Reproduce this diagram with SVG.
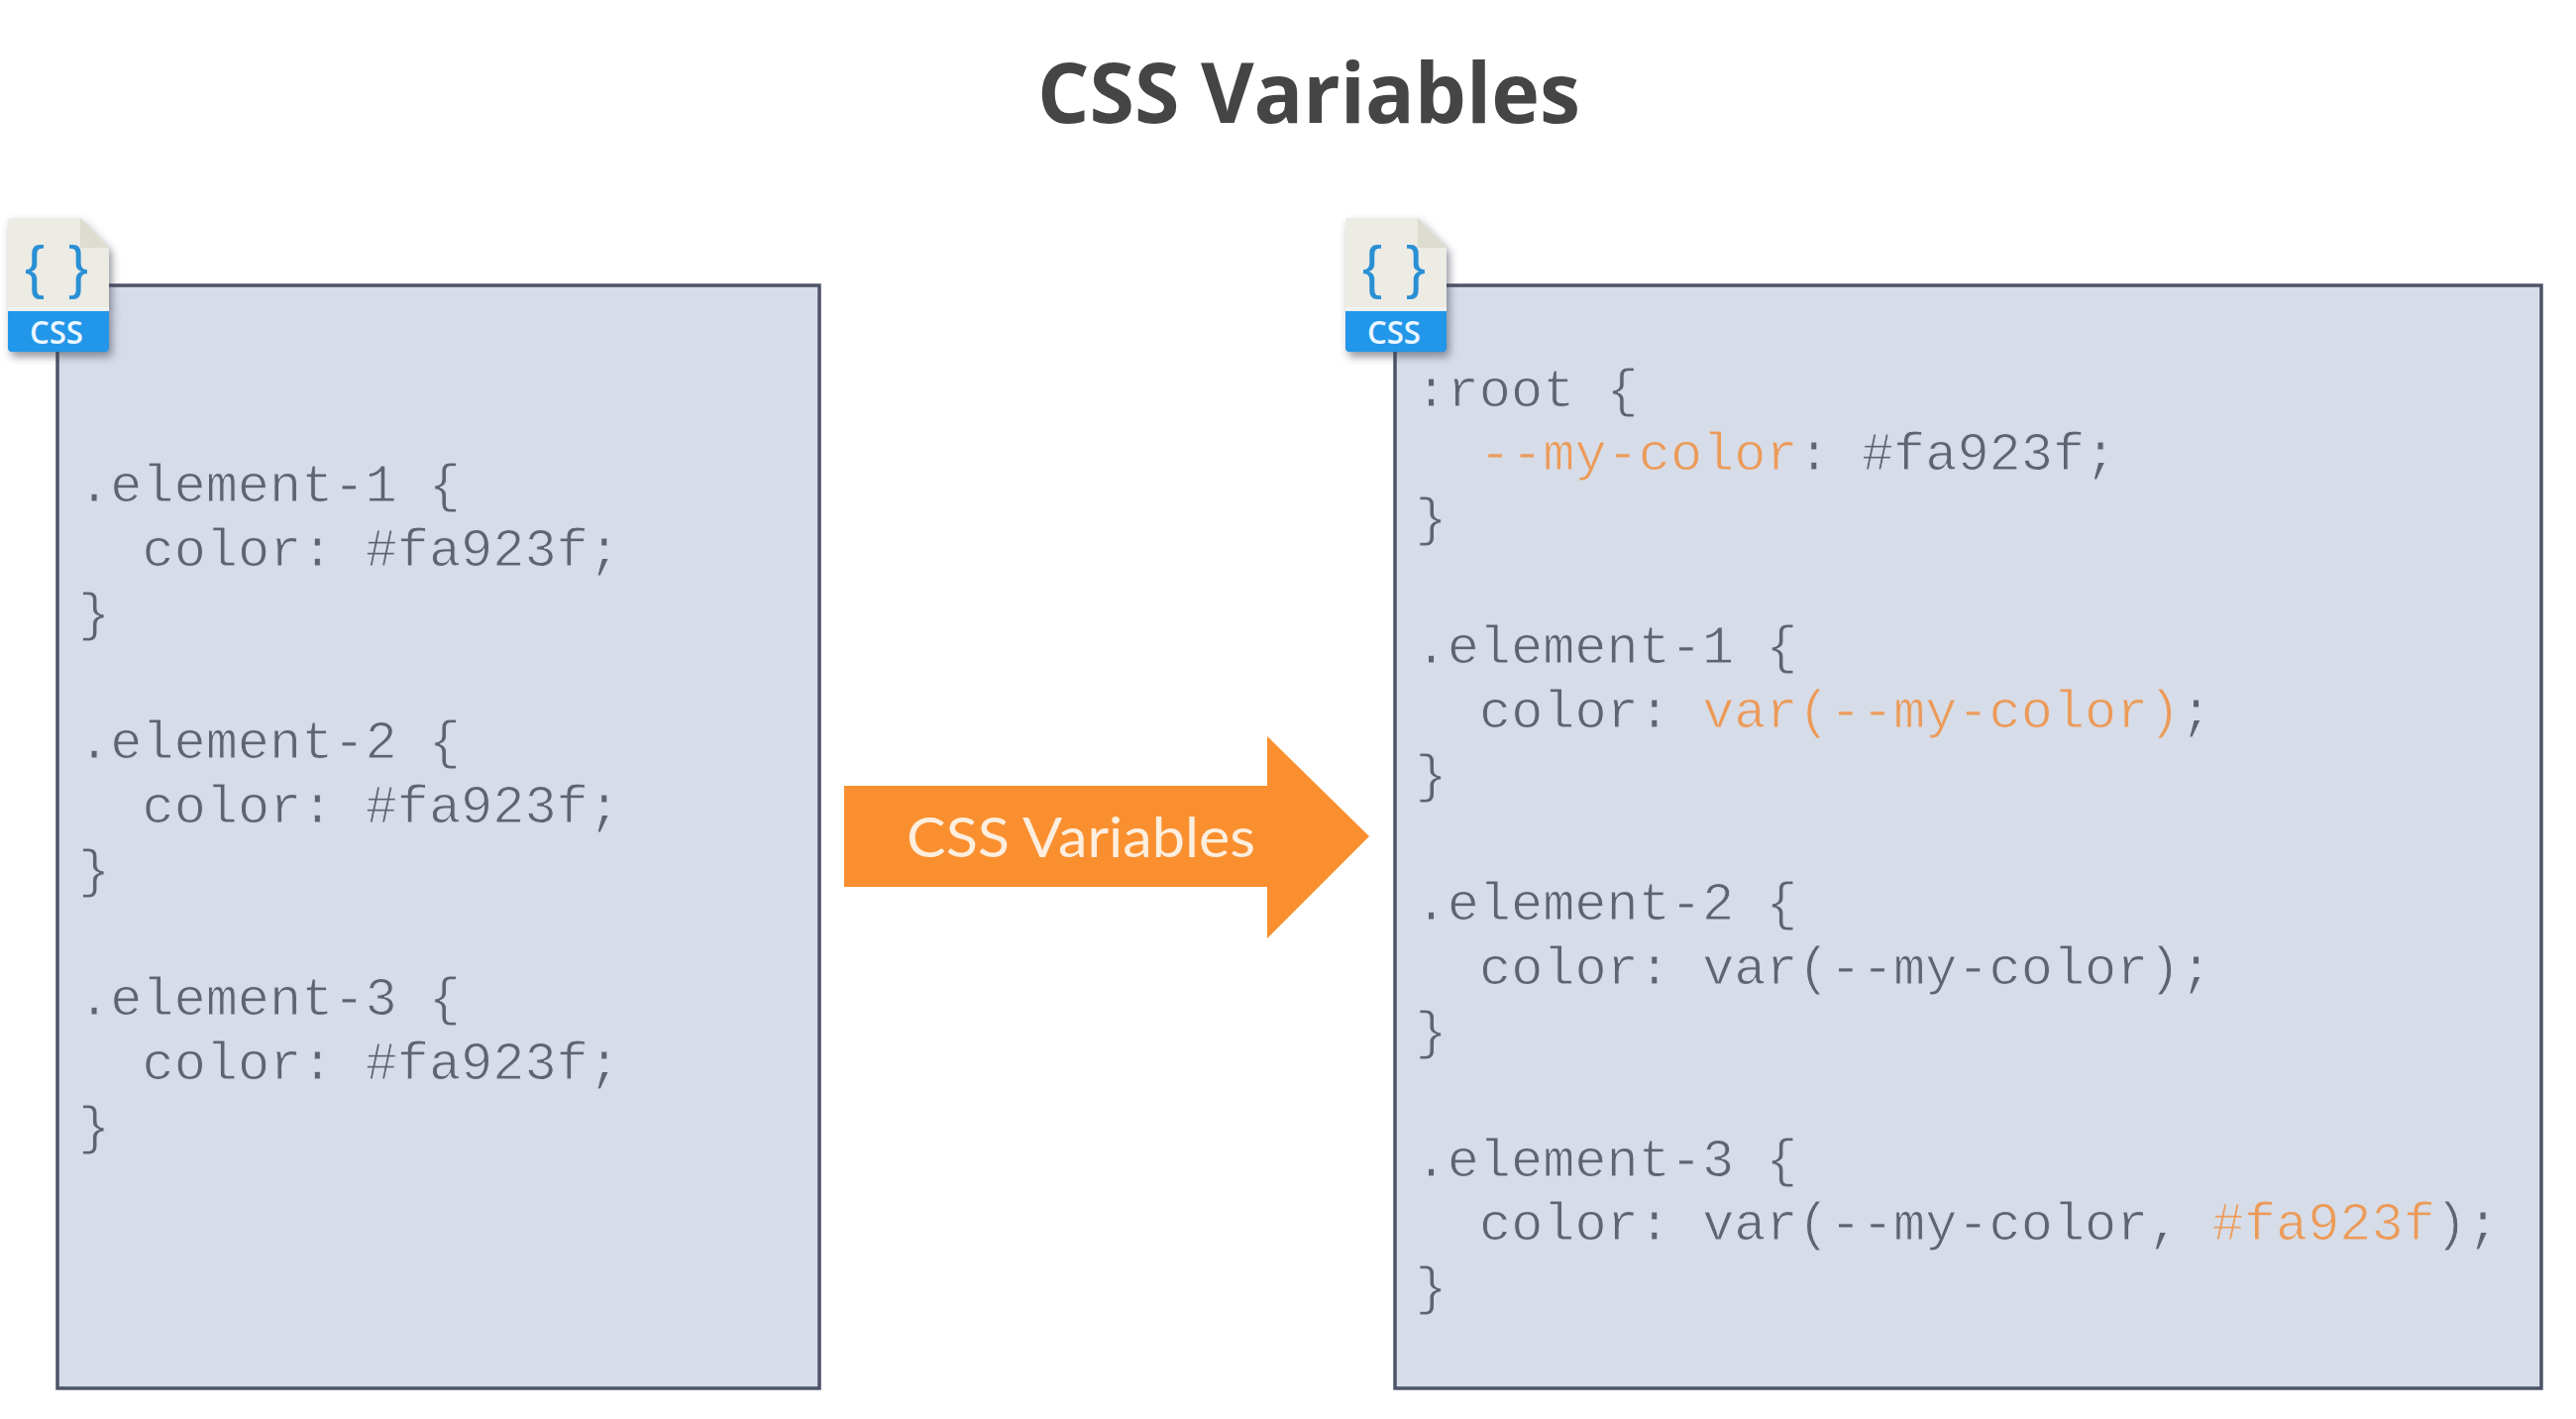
<svg xmlns="http://www.w3.org/2000/svg" xmlns:xlink="http://www.w3.org/1999/xlink" width="2600" height="1432" viewBox="0 0 2600 1432">
<style>
.panel{fill:#d7dde8;stroke:#4d5369;stroke-width:3.5}
.code{font-family:"Liberation Mono","DejaVu Sans Mono",monospace;font-size:53.6px;fill:#5d6472;stroke:#d7dde8;stroke-width:1;white-space:pre}
.o{fill:#ec9a58}
.title{font-family:"Open Sans","Noto Sans",sans-serif;font-weight:700;font-size:84px;fill:#454545}
.label{font-family:Lato,"Open Sans",sans-serif;font-size:56px;fill:#fdeede}
.brace{font-family:"Liberation Sans",sans-serif;font-size:60px;fill:#2a90d4;text-anchor:middle}
.css{font-family:"Open Sans",sans-serif;font-size:32px;fill:#eaf6ff;text-anchor:middle;font-weight:600}
</style>
<defs>
<filter id="sh" x="-20%" y="-20%" width="150%" height="150%"><feDropShadow dx="3" dy="5" stdDeviation="4" flood-color="#3a4050" flood-opacity=".55"/></filter>
<g id="css-icon">
<path d="M8 223Q8 220 11 220H81L110 250V314H8Z" fill="#ecebe4" filter="url(#sh)"/>
<path d="M81 220L110 250H81Z" fill="#dddcd0"/>
<rect x="8" y="310" width="102" height="4" fill="#f4f7f6"/>
<path d="M8 314H110V351Q110 355 106 355H12Q8 355 8 351Z" fill="#2196e8" filter="url(#sh)"/>
<text class="brace" x="35" y="290">{</text>
<text class="brace" x="79" y="290">}</text>
<text class="css" x="57" y="347" textLength="54" lengthAdjust="spacingAndGlyphs">CSS</text>
</g>
</defs>
<rect width="2600" height="1432" fill="#fff"/>
<g id="title"><text class="title" x="1047" y="124" textLength="548" lengthAdjust="spacingAndGlyphs">CSS Variables</text></g>
<g id="panel-before">
<rect class="panel" x="58" y="288" width="769" height="1113"/>
<text class="code" x="79" y="506">.element-1 {</text>
<text class="code" x="143.500" y="571">color: #fa923f;</text>
<text class="code" x="79" y="636">}</text>
<text class="code" x="79" y="765">.element-2 {</text>
<text class="code" x="143.500" y="830">color: #fa923f;</text>
<text class="code" x="79" y="895">}</text>
<text class="code" x="79" y="1024">.element-3 {</text>
<text class="code" x="143.500" y="1089">color: #fa923f;</text>
<text class="code" x="79" y="1154">}</text>
</g>
<g id="icon-before"><use xlink:href="#css-icon" href="#css-icon"/></g>
<g id="panel-after">
<rect class="panel" x="1408" y="288" width="1157" height="1113"/>
<text class="code" x="1428.500" y="410">:root {</text>
<text class="code" x="1493" y="474"><tspan class="o">--my-color</tspan>: #fa923f;</text>
<text class="code" x="1428.500" y="540">}</text>
<text class="code" x="1428.500" y="669">.element-1 {</text>
<text class="code" x="1493" y="734">color: <tspan class="o">var(--my-color)</tspan>;</text>
<text class="code" x="1428.500" y="799">}</text>
<text class="code" x="1428.500" y="928">.element-2 {</text>
<text class="code" x="1493" y="993">color: var(--my-color);</text>
<text class="code" x="1428.500" y="1058">}</text>
<text class="code" x="1428.500" y="1187">.element-3 {</text>
<text class="code" x="1493" y="1251">color: var(--my-color, <tspan class="o">#fa923f</tspan>);</text>
<text class="code" x="1428.500" y="1316">}</text>
</g>
<g id="icon-after"><use xlink:href="#css-icon" href="#css-icon" x="1350"/></g>
<g id="connectors">
<polygon points="852,793 1279,793 1279,743 1382,844 1279,947 1279,895 852,895" fill="#fa8f2f"/>
<text class="label" x="915" y="865" textLength="352" lengthAdjust="spacingAndGlyphs">CSS Variables</text>
</g>
</svg>
